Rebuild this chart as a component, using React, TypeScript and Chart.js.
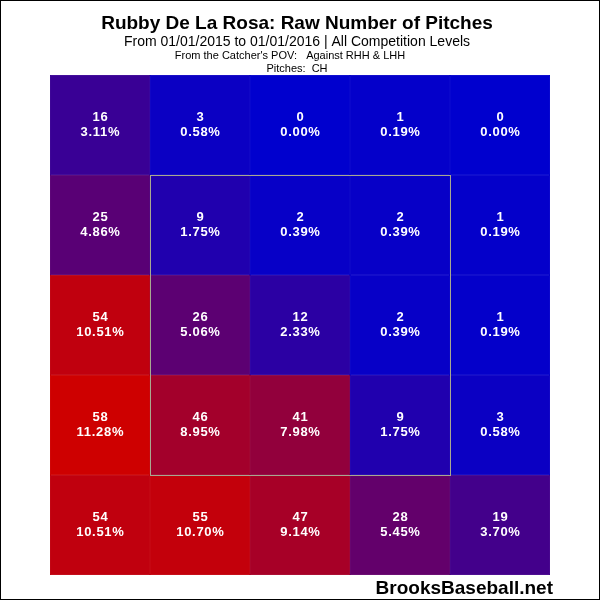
import React, { useEffect, useRef } from "react";
import { Chart, registerables } from "chart.js";

Chart.register(...registerables);

const columns = ["c1", "c2", "c3", "c4", "c5"];
const row1 = [16, 3, 0, 1, 0];
const row2 = [25, 9, 2, 2, 1];
const row3 = [54, 26, 12, 2, 1];
const row4 = [58, 46, 41, 9, 3];
const row5 = [54, 55, 47, 28, 19];
const rows = [row1, row2, row3, row4, row5];

const titleText = "Rubby De La Rosa: Raw Number of Pitches";
const subtitleText = "From 01/01/2015 to 01/01/2016 | All Competition Levels";
const povText = "From the Catcher's POV:   Against RHH & LHH";
const pitchText = "Pitches:  CH";
const brandText = "BrooksBaseball.net";

const total = rows.reduce((s, r) => s + r.reduce((a, b) => a + b, 0), 0);
const maxVal = Math.max(...rows.map((r) => Math.max(...r)));

function cellColor(v: number) {
  const t = v / maxVal;
  const r = Math.round(206 * t);
  const b = Math.round(206 * (1 - t));
  return `rgb(${r},0,${b})`;
}

const overlayPlugin = {
  id: "overlay",
  afterDatasetsDraw(chart: any) {
    const ctx = chart.ctx;
    ctx.save();
    ctx.fillStyle = "#ffffff";
    ctx.textAlign = "center";
    ctx.textBaseline = "middle";
    ctx.font = "bold 13px 'Liberation Sans', Arial, sans-serif";
    (ctx as any).letterSpacing = "0.7px";
    rows.forEach((row, ri) => {
      const meta = chart.getDatasetMeta(ri);
      meta.data.forEach((el: any, ci: number) => {
        const v = row[ci];
        const cy = (el.y + el.base) / 2;
        ctx.fillText(String(v), el.x + 0.4, cy - 7.5);
        ctx.fillText(((v / total) * 100).toFixed(2) + "%", el.x + 0.4, cy + 7);
      });
    });
    (ctx as any).letterSpacing = "0px";
    const xs = chart.scales.x;
    const ys = chart.scales.y;
    const half = (xs.getPixelForValue(1) - xs.getPixelForValue(0)) / 2;
    const left = xs.getPixelForValue(1) - half;
    const right = xs.getPixelForValue(3) + half;
    const top = ys.getPixelForValue(1);
    const bottom = ys.getPixelForValue(4);
    ctx.strokeStyle = "#a8a890";
    ctx.lineWidth = 1;
    ctx.strokeRect(Math.round(left) + 0.5, Math.round(top) + 0.5, right - left, bottom - top);
    ctx.restore();
  },
  afterDraw(chart: any) {
    const ctx = chart.ctx;
    ctx.save();
    ctx.fillStyle = "#000000";
    ctx.textAlign = "center";
    ctx.textBaseline = "middle";
    ctx.font = "bold 19px 'Liberation Sans', Arial, sans-serif";
    ctx.fillText(titleText, 297, 24);
    ctx.font = "14px 'Liberation Sans', Arial, sans-serif";
    ctx.fillText(subtitleText, 297, 42);
    ctx.font = "11px 'Liberation Sans', Arial, sans-serif";
    ctx.fillText(povText, 290, 56);
    ctx.fillText(pitchText, 297, 69);
    ctx.textAlign = "right";
    ctx.font = "bold 19px 'Liberation Sans', Arial, sans-serif";
    ctx.fillText(brandText, 553, 589);
    ctx.strokeStyle = "#000000";
    ctx.lineWidth = 1;
    ctx.strokeRect(0.5, 0.5, 599, 599);
    ctx.restore();
  },
};

export default function App() {
  const ref = useRef<HTMLCanvasElement>(null);
  useEffect(() => {
    document.body.style.margin = "0";
    const canvas = ref.current!;
    const chart = new Chart(canvas, {
      type: "bar",
      data: {
        labels: columns,
        datasets: rows.map((row, ri) => ({
          label: "row" + (ri + 1),
          data: row.map(() => [ri, ri + 1]) as any,
          backgroundColor: row.map((v) => cellColor(v)),
          borderColor: row.map((v) => cellColor(v)),
          borderWidth: 0.5,
          borderSkipped: false,
          grouped: false,
          barPercentage: 1,
          categoryPercentage: 1,
        })),
      },
      options: {
        animation: false,
        responsive: false,
        layout: { padding: { left: 50, right: 50, top: 75, bottom: 25 } },
        plugins: { legend: { display: false }, tooltip: { enabled: false } },
        scales: {
          x: { display: false, type: "category" },
          y: { display: false, min: 0, max: 5, reverse: true },
        },
      },
      plugins: [
        overlayPlugin,
        {
          id: "bg",
          beforeDraw(c: any) {
            c.ctx.save();
            c.ctx.fillStyle = "#ffffff";
            c.ctx.fillRect(0, 0, 600, 600);
            c.ctx.restore();
          },
        },
      ],
    });
    return () => chart.destroy();
  }, []);
  return (
    <div style={{ width: 600, height: 600 }}>
      <canvas ref={ref} width={600} height={600} style={{ display: "block" }} />
    </div>
  );
}
